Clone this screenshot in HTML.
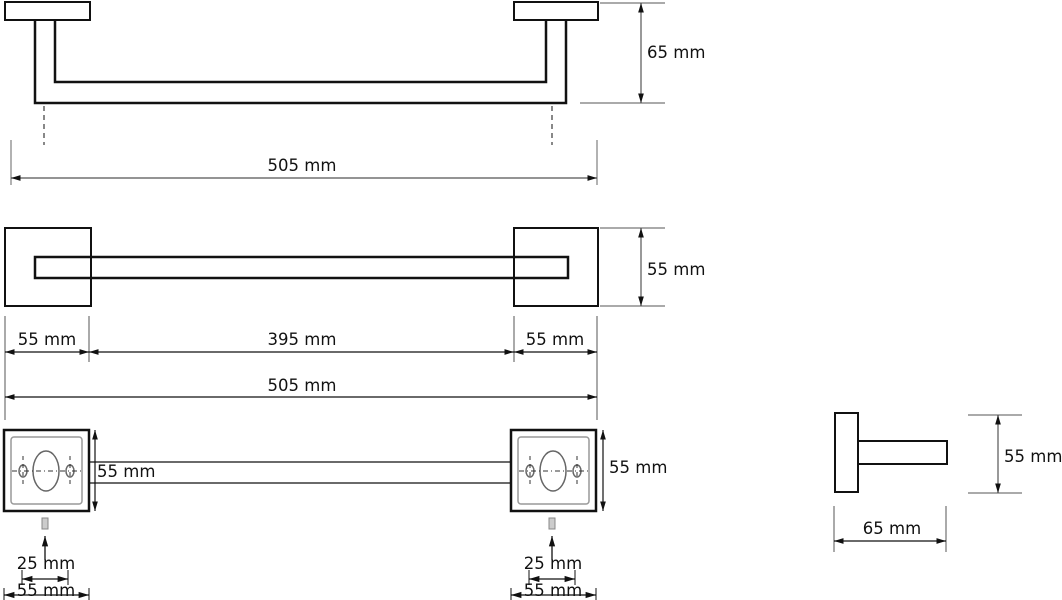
<!DOCTYPE html>
<html><head><style>html,body{margin:0;padding:0;background:#fff}svg{display:block}text{font-family:"DejaVu Sans","Liberation Sans",sans-serif;font-size:16.5px;fill:#111}</style></head><body>
<svg width="1062" height="600" viewBox="0 0 1062 600" xmlns="http://www.w3.org/2000/svg">
<defs>
<marker id="a" viewBox="0 0 10 10" refX="10" refY="5" markerWidth="8" markerHeight="8" orient="auto-start-reverse"><path d="M0,2 L10,5 L0,8z" fill="#111"/></marker>
<g id="m">
<rect x="0" y="0" width="85" height="81" fill="#fff" stroke="#111" stroke-width="2.5"/>
<rect x="7" y="7" width="71" height="67" rx="3" fill="none" stroke="#999" stroke-width="1.5"/>
<ellipse cx="42" cy="41" rx="13" ry="20" fill="none" stroke="#666" stroke-width="1.5"/>
<ellipse cx="19" cy="41" rx="4" ry="6" fill="none" stroke="#666" stroke-width="1.5"/>
<ellipse cx="66" cy="41" rx="4" ry="6" fill="none" stroke="#666" stroke-width="1.5"/>
<line x1="8" y1="41" x2="79" y2="41" stroke="#333" stroke-width="1" stroke-dasharray="5,3,1,3"/>
<line x1="19" y1="26" x2="19" y2="58" stroke="#333" stroke-width="1" stroke-dasharray="4,4"/>
<line x1="66" y1="26" x2="66" y2="58" stroke="#333" stroke-width="1" stroke-dasharray="4,4"/>
<rect x="38" y="88" width="6" height="11" fill="#ccc" stroke="#888"/>
<line x1="41" y1="130" x2="41" y2="106" stroke="#111" stroke-width="1.3" marker-end="url(#a)"/>
<line x1="18" y1="140" x2="18" y2="155" stroke="#111"/><line x1="64" y1="140" x2="64" y2="155" stroke="#111"/>
<line x1="18" y1="149" x2="64" y2="149" stroke="#111" stroke-width="1.3" marker-end="url(#a)" marker-start="url(#a)"/>
<text x="42" y="139" text-anchor="middle">25 mm</text>
<line x1="0" y1="158" x2="0" y2="170" stroke="#111"/><line x1="85" y1="158" x2="85" y2="170" stroke="#111"/>
<line x1="0" y1="165" x2="85" y2="165" stroke="#111" stroke-width="1.3" marker-end="url(#a)" marker-start="url(#a)"/>
<text x="42" y="166" text-anchor="middle">55 mm</text>
</g>
</defs>
<g stroke="#111" fill="none">
<rect x="5" y="2" width="85" height="18" stroke-width="2"/>
<rect x="514" y="2" width="84" height="18" stroke-width="2"/>
<path d="M35,21 V103 H566 V21" stroke-width="2.5"/>
<path d="M55,21 V82 H546 V21" stroke-width="2.5"/>
<line x1="44" y1="106" x2="44" y2="145" stroke-width="1" stroke-dasharray="5,4"/>
<line x1="552" y1="106" x2="552" y2="145" stroke-width="1" stroke-dasharray="5,4"/>
<line x1="11" y1="140" x2="11" y2="185" stroke="#888" stroke-width="1.3"/>
<line x1="597" y1="140" x2="597" y2="185" stroke="#888" stroke-width="1.3"/>
<line x1="11" y1="178" x2="597" y2="178" stroke-width="1.2" stroke="#555" marker-start="url(#a)" marker-end="url(#a)"/>
<line x1="600" y1="3" x2="665" y2="3" stroke="#555"/><line x1="580" y1="103" x2="665" y2="103" stroke="#555"/>
<line x1="641" y1="3" x2="641" y2="103" stroke="#555" stroke-width="1.2" marker-start="url(#a)" marker-end="url(#a)"/>
<rect x="5" y="228" width="86" height="78" stroke-width="2"/>
<rect x="514" y="228" width="84" height="78" stroke-width="2"/>
<rect x="35" y="257" width="533" height="21" stroke-width="2.5"/>
<line x1="600" y1="228" x2="665" y2="228" stroke="#555"/><line x1="600" y1="306" x2="665" y2="306" stroke="#555"/>
<line x1="641" y1="228" x2="641" y2="306" stroke="#555" stroke-width="1.2" marker-start="url(#a)" marker-end="url(#a)"/>
<line x1="5" y1="316" x2="5" y2="420" stroke="#555"/><line x1="597" y1="316" x2="597" y2="420" stroke="#555"/>
<line x1="89" y1="316" x2="89" y2="362" stroke="#555"/><line x1="514" y1="316" x2="514" y2="362" stroke="#555"/>
<line x1="5" y1="352" x2="89" y2="352" stroke-width="1.2" marker-start="url(#a)" marker-end="url(#a)"/>
<line x1="89" y1="352" x2="514" y2="352" stroke-width="1.2" marker-start="url(#a)" marker-end="url(#a)"/>
<line x1="514" y1="352" x2="597" y2="352" stroke-width="1.2" marker-start="url(#a)" marker-end="url(#a)"/>
<line x1="5" y1="397" x2="597" y2="397" stroke-width="1.2" marker-start="url(#a)" marker-end="url(#a)"/>
<line x1="89" y1="462" x2="511" y2="462" stroke-width="1.3"/><line x1="89" y1="483" x2="511" y2="483" stroke-width="1.3"/>
<line x1="95" y1="430" x2="95" y2="511" stroke-width="1.2" marker-start="url(#a)" marker-end="url(#a)"/>
<line x1="603" y1="430" x2="603" y2="511" stroke-width="1.2" marker-start="url(#a)" marker-end="url(#a)"/>
<rect x="835" y="413" width="23" height="79" stroke-width="2"/>
<rect x="858" y="441" width="89" height="23" stroke-width="2"/>
<line x1="968" y1="415" x2="1022" y2="415" stroke="#555"/><line x1="968" y1="493" x2="1022" y2="493" stroke="#555"/>
<line x1="998" y1="415" x2="998" y2="493" stroke="#555" stroke-width="1.2" marker-start="url(#a)" marker-end="url(#a)"/>
<line x1="834" y1="506" x2="834" y2="552" stroke="#555"/><line x1="946" y1="506" x2="946" y2="552" stroke="#555"/>
<line x1="834" y1="541" x2="946" y2="541" stroke-width="1.2" marker-start="url(#a)" marker-end="url(#a)"/>
</g>
<use href="#m" x="4" y="430"/>
<use href="#m" x="511" y="430"/>
<text x="302" y="171" text-anchor="middle">505 mm</text>
<text x="647" y="58">65 mm</text>
<text x="647" y="275">55 mm</text>
<text x="47" y="345" text-anchor="middle">55 mm</text>
<text x="302" y="345" text-anchor="middle">395 mm</text>
<text x="555" y="345" text-anchor="middle">55 mm</text>
<text x="302" y="391" text-anchor="middle">505 mm</text>
<text x="97" y="477">55 mm</text>
<text x="609" y="473">55 mm</text>
<text x="1004" y="462">55 mm</text>
<text x="892" y="534" text-anchor="middle">65 mm</text>
</svg>
</body></html>
